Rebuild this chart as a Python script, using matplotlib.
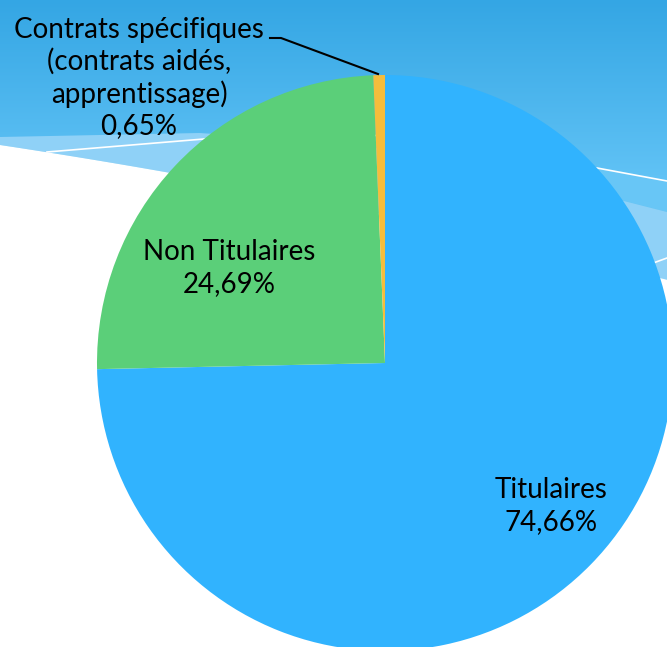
import numpy as np
import matplotlib.pyplot as plt
from matplotlib.colors import to_rgb

# Data
labels = ['Titulaires', 'Non Titulaires', 'Contrats spécifiques\n(contrats aidés,\napprentissage)']
values = [74.66, 24.69, 0.65]
pct_text = ['74,66%', '24,69%', '0,65%']
colors = ['#31B3FE', '#5BCF79', '#F5BD3C']

W, H = 667, 647
fig = plt.figure(figsize=(W / 100, H / 100), dpi=100)
ax = fig.add_axes([0, 0, 1, 1])

def fy(y):
    # image row -> data y
    return H - np.asarray(y, dtype=float)

# background: vertical blue gradient
rows = np.arange(H)
c0, c1 = np.array(to_rgb('#34A6E4')), np.array(to_rgb('#60C2F5'))
t = np.clip(rows / 175.0, 0, 1)[:, None]
grad = (c0 * (1 - t) + c1 * t)[:, None, :]
ax.imshow(grad, extent=[0, W, 0, H], aspect='auto', zorder=0)

xs = np.linspace(0, W, 300)
top_m = np.interp(xs, [0, 200, 400, 597, 667], [137, 133, 140, 168, 182])
top_l = np.interp(xs, [0, 200, 400, 620, 667], [137, 133, 150, 200, 212])
edge_w = np.polyval(np.polyfit([0, 165, 660], [145, 172, 278], 2), xs)

ax.fill_between(xs, fy(top_m), fy(top_l), color='#68C6F6', lw=0, zorder=1)
ax.fill_between(xs, fy(top_l), fy(edge_w), color='#8FD1F7', lw=0, zorder=1)
ax.fill_between(xs, fy(edge_w), 0, color='white', lw=0, zorder=1)

# thin white swoosh lines
ax.plot([47, 204, 400, 597, 667], fy([152, 139, 135, 168, 181]), color='white', lw=1.2, zorder=2)
ax.plot([645, 667], fy([266, 258]), color='white', lw=1.2, zorder=2)

# pie
wedges, _ = ax.pie(values, colors=colors, startangle=90, counterclock=False,
                   center=(385, fy(363)), radius=288, wedgeprops=dict(linewidth=0),
                   frame=False)
for w in wedges:
    w.set_zorder(3)

font = 'Lato'
ax.text(551, fy(506), labels[0] + '\n' + pct_text[0], ha='center', va='center',
        fontsize=20, family=font, linespacing=1.3, zorder=4)
ax.text(229, fy(268), labels[1] + '\n' + pct_text[1], ha='center', va='center',
        fontsize=20, family=font, linespacing=1.3, zorder=4)
ax.text(139, fy(78), labels[2] + '\n' + pct_text[2], ha='center', va='center',
        fontsize=20, family=font, linespacing=1.25, zorder=4)

# leader line for the small slice
ax.plot([270, 281, 378], fy([38, 38, 74]), color='black', lw=1.5, zorder=4)

ax.set_xlim(0, W)
ax.set_ylim(0, H)
ax.set_aspect('auto')
ax.axis('off')

fig.savefig('out.png', dpi=100)
